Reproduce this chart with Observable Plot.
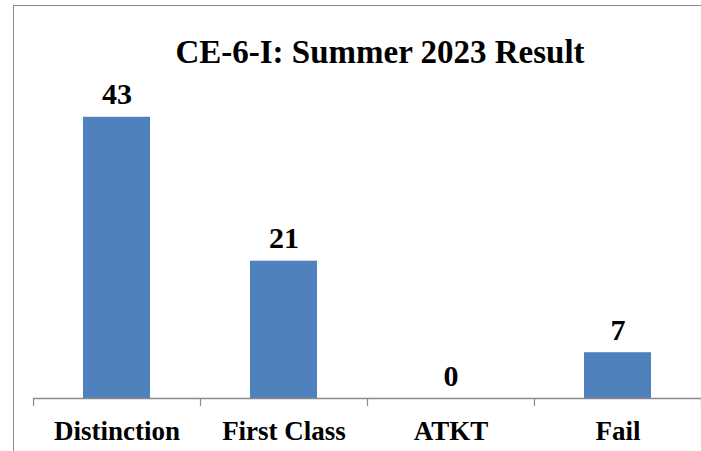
<!DOCTYPE html>
<html>
<head>
<meta charset="utf-8">
<script src="https://cdn.jsdelivr.net/npm/d3@7"></script>
<script src="https://cdn.jsdelivr.net/npm/@observablehq/plot@0.6"></script>
<style>
  html, body { margin: 0; padding: 0; background: #fff; overflow: hidden; }
  #wrap { position: relative; width: 701px; height: 451px; overflow: hidden; background: #fff; }
  #frame { position: absolute; left: 13px; top: 5px; width: 800px; height: 600px; border: 1.5px solid #8a8a8a; box-sizing: border-box; }
  #title { position: absolute; left: 0; top: 36px; width: 760px; text-align: center;
           font: bold 33px "Liberation Serif", "Times New Roman", serif; line-height: 32px; color: #000; }
  #chart { position: absolute; left: 0; top: 0; }
  #chart svg text { font-family: "Liberation Serif", "Times New Roman", serif; }
</style>
</head>
<body>
<div id="wrap">
  <div id="frame"></div>
  <div id="chart"></div>
  <div id="title">CE-6-I: Summer 2023 Result</div>
</div>
<script>
const categories = ["Distinction", "First Class", "ATKT", "Fail"];
const values = [43, 21, 0, 7];
const yMax = 50;

const data = categories.map((c, i) => ({category: c, value: values[i], i}));
const boundaries = d3.range(categories.length + 1);
const centers = categories.map((c, i) => i + 0.5);

const font = '"Liberation Serif", "Times New Roman", serif';

const chart = Plot.plot({
  width: 701,
  height: 451,
  marginLeft: 33,
  marginRight: 0,
  marginTop: 71,
  marginBottom: 53,
  style: {background: "transparent", fontFamily: font, color: "#000"},
  x: {type: "linear", domain: [0, categories.length], axis: null},
  y: {domain: [0, yMax], axis: null},
  marks: [
    Plot.rectY(data, {x1: d => d.i, x2: d => d.i + 1, y: "value", fill: "#4F81BD", insetLeft: 50, insetRight: 50}),
    Plot.ruleY([0], {stroke: "#8a8a8a", strokeWidth: 1.5}),
    Plot.axisX({ticks: boundaries, tickSize: 8, tickFormat: () => "", stroke: "#8a8a8a", strokeWidth: 1.2}),
    Plot.axisX({ticks: centers, tickSize: 0, tickPadding: 22, tickFormat: d => categories[Math.floor(d)],
                fontSize: 27, fontWeight: "bold", fontFamily: font, fill: "#000"}),
    Plot.text(data, {x: d => d.i + 0.5, y: "value", text: d => String(d.value), lineAnchor: "bottom", dy: -13,
                     fontSize: 30, fontWeight: "bold", fontFamily: font, fill: "#000"})
  ]
});
document.getElementById("chart").appendChild(chart);
</script>
</body>
</html>
